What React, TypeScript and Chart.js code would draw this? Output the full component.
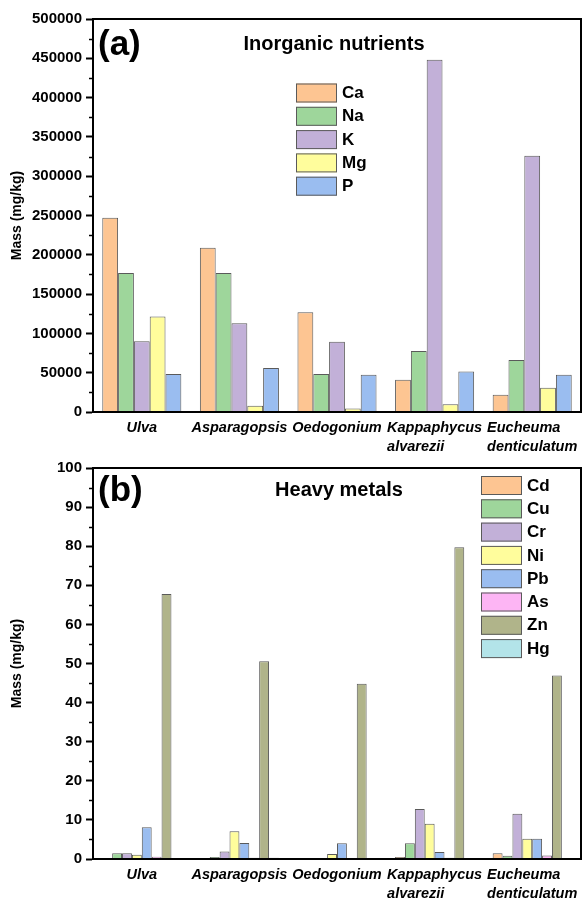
import React, { useEffect, useRef } from 'react';
import { Chart, registerables } from 'chart.js';

Chart.register(...registerables);

const FONT = '"Liberation Sans", Arial, sans-serif';

// ---------- data ----------
const categories: string[][] = [
  ['Ulva'],
  ['Asparagopsis'],
  ['Oedogonium'],
  ['Kappaphycus', 'alvarezii'],
  ['Eucheuma', 'denticulatum'],
];

const nutrientNames = ['Ca', 'Na', 'K', 'Mg', 'P'];
const caValues = [247000, 209000, 127000, 41000, 22000];
const naValues = [177000, 177000, 48500, 77500, 66000];
const kValues = [90000, 113000, 89500, 448000, 326000];
const mgValues = [121500, 8000, 4500, 10000, 31000];
const pValues = [48500, 56000, 47500, 51500, 47500];
const nutrientTicks = [0, 50000, 100000, 150000, 200000, 250000, 300000, 350000, 400000, 450000, 500000];

const metalNames = ['Cd', 'Cu', 'Cr', 'Ni', 'Pb', 'As', 'Zn', 'Hg'];
const cdValues = [0, 0, 0, 0.5, 1.5];
const cuValues = [1.5, 0.5, 0, 4.0, 0.8];
const crValues = [1.5, 1.9, 0.2, 12.8, 11.6];
const niValues = [1.1, 7.1, 1.3, 9.0, 5.2];
const pbValues = [8.1, 4.1, 4.0, 1.8, 5.2];
const asValues = [0.6, 0.3, 0, 0.3, 0.9];
const znValues = [67.8, 50.6, 44.8, 79.7, 46.9];
const hgValues = [0, 0.3, 0.2, 0, 0];
const metalTicks = [0, 10, 20, 30, 40, 50, 60, 70, 80, 90, 100];

// ---------- styles ----------
const nutrientColors = ['#FDC592', '#9ED69B', '#C2B0D8', '#FFFD9C', '#9ABDF0'];
const metalColors = ['#FDC592', '#9ED69B', '#C2B0D8', '#FFFD9C', '#9ABDF0', '#FDB5F4', '#B0B48A', '#B3E4E9'];

type Panel = {
  names: string[];
  series: number[][];
  colors: string[];
  yTicks: number[];
  tag: string;
  title: string;
  titleX: number;
  titleY: number;
  tagY: number;
  legendX: number;
  legendTop: number;
  padTop: number;
  xAxisHeight: number;
  height: number;
};

const panelA: Panel = {
  names: nutrientNames,
  series: [caValues, naValues, kValues, mgValues, pValues],
  colors: nutrientColors,
  yTicks: nutrientTicks,
  tag: '(a)',
  title: 'Inorganic nutrients',
  titleX: 334,
  titleY: 44,
  tagY: 45,
  legendX: 296,
  legendTop: 83.5,
  padTop: 19,
  xAxisHeight: 43,
  height: 455,
};

const panelB: Panel = {
  names: metalNames,
  series: [cdValues, cuValues, crValues, niValues, pbValues, asValues, znValues, hgValues],
  colors: metalColors,
  yTicks: metalTicks,
  tag: '(b)',
  title: 'Heavy metals',
  titleX: 339,
  titleY: 35,
  tagY: 36,
  legendX: 481,
  legendTop: 21,
  padTop: 10,
  xAxisHeight: 42,
  height: 446,
};

function makeDecorPlugin(p: Panel) {
  return {
    id: 'decor' + p.tag,
    afterDatasetsDraw(chart: any) {
      const { ctx, chartArea } = chart;
      ctx.save();
      ctx.strokeStyle = '#000';
      ctx.lineWidth = 2;
      ctx.strokeRect(chartArea.left, chartArea.top, chartArea.right - chartArea.left, chartArea.bottom - chartArea.top);
      ctx.restore();
    },
    afterDraw(chart: any) {
      const { ctx, chartArea } = chart;
      const ys = chart.scales.y;
      const xs = chart.scales.x;
      ctx.save();
      // minor ticks
      ctx.strokeStyle = '#000';
      ctx.lineWidth = 1.5;
      for (let i = 0; i < p.yTicks.length - 1; i++) {
        const mid = (p.yTicks[i] + p.yTicks[i + 1]) / 2;
        const y = Math.round(ys.getPixelForValue(mid)) + 0.5;
        ctx.beginPath();
        ctx.moveTo(chartArea.left - 4, y);
        ctx.lineTo(chartArea.left, y);
        ctx.stroke();
      }
      // category labels
      ctx.fillStyle = '#000';
      ctx.font = 'italic bold 14.5px ' + FONT;
      ctx.textAlign = 'left';
      ctx.textBaseline = 'middle';
      categories.forEach((lines, i) => {
        const cx = xs.getPixelForValue(i);
        const w = Math.max(...lines.map((l) => ctx.measureText(l).width));
        let left = cx - w / 2;
        if (left + w > chart.width - 1) left = chart.width - 1 - w;
        lines.forEach((l, j) => ctx.fillText(l, left, chartArea.bottom + 16 + j * 19));
      });
      // panel tag
      ctx.font = 'bold 35px ' + FONT;
      ctx.fillText(p.tag, 98, p.tagY);
      // title
      ctx.font = 'bold 20px ' + FONT;
      ctx.textAlign = 'center';
      ctx.fillText(p.title, p.titleX, p.titleY);
      // legend
      ctx.textAlign = 'left';
      ctx.font = 'bold 17px ' + FONT;
      chart.data.datasets.forEach((ds: any, i: number) => {
        const top = p.legendTop + i * 23.3;
        ctx.fillStyle = ds.backgroundColor;
        ctx.fillRect(p.legendX, top, 41, 19);
        ctx.strokeStyle = '#5a5a5a';
        ctx.lineWidth = 1;
        ctx.strokeRect(p.legendX + 0.5, top + 0.5, 40, 18);
        ctx.fillStyle = '#000';
        ctx.fillText(ds.label, p.legendX + 46, top + 10);
      });
      ctx.restore();
    },
  };
}

function BarPanel({ p, top }: { p: Panel; top: number }) {
  const ref = useRef<HTMLCanvasElement | null>(null);
  useEffect(() => {
    if (!ref.current) return;
    const chart = new Chart(ref.current, {
      type: 'bar',
      data: {
        labels: categories.map((c) => c.join(' ')),
        datasets: p.names.map((n, i) => ({
          label: n,
          data: p.series[i],
          backgroundColor: p.colors[i],
          borderColor: '#5a5a5a',
          borderWidth: 1,
          categoryPercentage: 0.81,
          barPercentage: 1,
        })),
      },
      options: {
        responsive: false,
        animation: false,
        devicePixelRatio: 1,
        layout: { padding: { top: p.padTop, right: 6, left: 0, bottom: 0 } },
        plugins: { legend: { display: false }, tooltip: { enabled: false } },
        scales: {
          x: {
            grid: { display: false },
            ticks: { display: false },
            border: { display: true, color: '#000', width: 2 },
            afterFit: (s: any) => {
              s.height = p.xAxisHeight;
            },
          },
          y: {
            min: p.yTicks[0],
            max: p.yTicks[p.yTicks.length - 1],
            afterBuildTicks: (s: any) => {
              s.ticks = p.yTicks.map((v) => ({ value: v }));
            },
            ticks: {
              color: '#000',
              padding: 4,
              font: { family: FONT, size: 15, weight: 'bold' },
              callback: (v: any) => String(v),
            },
            grid: {
              display: true,
              drawOnChartArea: false,
              drawTicks: true,
              tickLength: 7,
              tickColor: '#000',
              tickWidth: 2,
            },
            border: { display: true, color: '#000', width: 2 },
            title: {
              display: true,
              text: 'Mass (mg/kg)',
              color: '#000',
              font: { family: FONT, size: 14, weight: 'bold' },
              padding: { top: 9, bottom: 0 },
            },
            afterFit: (s: any) => {
              s.width = 93;
            },
          },
        },
      } as any,
      plugins: [makeDecorPlugin(p)],
    });
    return () => chart.destroy();
  }, [p]);
  return (
    <canvas
      ref={ref}
      width={587}
      height={p.height}
      style={{ position: 'absolute', left: 0, top, width: 587, height: p.height }}
    />
  );
}

export default function App() {
  return (
    <div style={{ position: 'absolute', left: 0, top: 0, width: 587, height: 901, background: '#fff' }}>
      <BarPanel p={panelA} top={0} />
      <BarPanel p={panelB} top={455} />
    </div>
  );
}
